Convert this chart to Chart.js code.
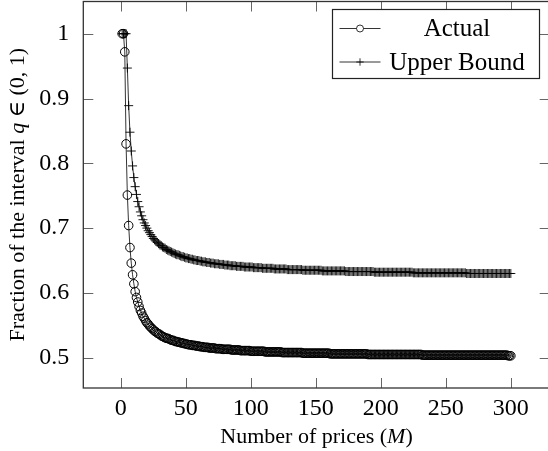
<!DOCTYPE html>
<html>
<head>
<meta charset="utf-8">
<script src="https://cdn.jsdelivr.net/npm/chart.js@4.4.1/dist/chart.umd.min.js"></script>
<style>
  html, body { margin: 0; padding: 0; background: #fff; overflow: hidden; }
  canvas { display: block; }
</style>
</head>
<body>
<canvas id="chart" width="552" height="451"></canvas>
<script>
const seriesNames = ['Actual', 'Upper Bound'];
const firstM = 1; // first value of M, one point per integer M
const xTicks = [0, 50, 100, 150, 200, 250, 300];
const yTicks = [0.5, 0.6, 0.7, 0.8, 0.9, 1];

// M = 1 .. 300
const actual = [
  1, 1, 0.972, 0.830, 0.751, 0.704, 0.670, 0.646, 0.628, 0.614,
  0.602, 0.593, 0.586, 0.579, 0.573, 0.569, 0.564, 0.561, 0.557, 0.554,
  0.552, 0.549, 0.547, 0.545, 0.543, 0.541, 0.540, 0.538, 0.537, 0.536,
  0.534, 0.533, 0.532, 0.531, 0.530, 0.530, 0.529, 0.528, 0.527, 0.527,
  0.526, 0.525, 0.525, 0.524, 0.524, 0.523, 0.523, 0.522, 0.522, 0.521,
  0.521, 0.520, 0.520, 0.520, 0.519, 0.519, 0.519, 0.518, 0.518, 0.518,
  0.517, 0.517, 0.517, 0.516, 0.516, 0.516, 0.516, 0.515, 0.515, 0.515,
  0.515, 0.515, 0.514, 0.514, 0.514, 0.514, 0.514, 0.513, 0.513, 0.513,
  0.513, 0.513, 0.513, 0.513, 0.512, 0.512, 0.512, 0.512, 0.512, 0.512,
  0.512, 0.511, 0.511, 0.511, 0.511, 0.511, 0.511, 0.511, 0.511, 0.510,
  0.510, 0.510, 0.510, 0.510, 0.510, 0.510, 0.510, 0.510, 0.510, 0.510,
  0.509, 0.509, 0.509, 0.509, 0.509, 0.509, 0.509, 0.509, 0.509, 0.509,
  0.509, 0.509, 0.509, 0.508, 0.508, 0.508, 0.508, 0.508, 0.508, 0.508,
  0.508, 0.508, 0.508, 0.508, 0.508, 0.508, 0.508, 0.508, 0.508, 0.507,
  0.507, 0.507, 0.507, 0.507, 0.507, 0.507, 0.507, 0.507, 0.507, 0.507,
  0.507, 0.507, 0.507, 0.507, 0.507, 0.507, 0.507, 0.507, 0.507, 0.507,
  0.506, 0.506, 0.506, 0.506, 0.506, 0.506, 0.506, 0.506, 0.506, 0.506,
  0.506, 0.506, 0.506, 0.506, 0.506, 0.506, 0.506, 0.506, 0.506, 0.506,
  0.506, 0.506, 0.506, 0.506, 0.506, 0.506, 0.506, 0.506, 0.506, 0.505,
  0.505, 0.505, 0.505, 0.505, 0.505, 0.505, 0.505, 0.505, 0.505, 0.505,
  0.505, 0.505, 0.505, 0.505, 0.505, 0.505, 0.505, 0.505, 0.505, 0.505,
  0.505, 0.505, 0.505, 0.505, 0.505, 0.505, 0.505, 0.505, 0.505, 0.505,
  0.505, 0.505, 0.505, 0.505, 0.505, 0.505, 0.505, 0.505, 0.505, 0.505,
  0.505, 0.504, 0.504, 0.504, 0.504, 0.504, 0.504, 0.504, 0.504, 0.504,
  0.504, 0.504, 0.504, 0.504, 0.504, 0.504, 0.504, 0.504, 0.504, 0.504,
  0.504, 0.504, 0.504, 0.504, 0.504, 0.504, 0.504, 0.504, 0.504, 0.504,
  0.504, 0.504, 0.504, 0.504, 0.504, 0.504, 0.504, 0.504, 0.504, 0.504,
  0.504, 0.504, 0.504, 0.504, 0.504, 0.504, 0.504, 0.504, 0.504, 0.504,
  0.504, 0.504, 0.504, 0.504, 0.504, 0.504, 0.504, 0.504, 0.504, 0.504,
  0.504, 0.504, 0.504, 0.504, 0.504, 0.504, 0.504, 0.503, 0.503, 0.503
];

const upperBound = [
  1, 1, 1, 1, 0.947, 0.889, 0.848, 0.819, 0.796, 0.778,
  0.764, 0.752, 0.741, 0.733, 0.725, 0.719, 0.713, 0.708, 0.704, 0.700,
  0.696, 0.693, 0.690, 0.687, 0.684, 0.682, 0.680, 0.678, 0.676, 0.674,
  0.673, 0.671, 0.670, 0.669, 0.667, 0.666, 0.665, 0.664, 0.663, 0.662,
  0.661, 0.660, 0.659, 0.659, 0.658, 0.657, 0.656, 0.656, 0.655, 0.654,
  0.654, 0.653, 0.653, 0.652, 0.652, 0.651, 0.651, 0.650, 0.650, 0.650,
  0.649, 0.649, 0.648, 0.648, 0.648, 0.647, 0.647, 0.647, 0.646, 0.646,
  0.646, 0.645, 0.645, 0.645, 0.645, 0.644, 0.644, 0.644, 0.644, 0.643,
  0.643, 0.643, 0.643, 0.642, 0.642, 0.642, 0.642, 0.642, 0.641, 0.641,
  0.641, 0.641, 0.641, 0.641, 0.640, 0.640, 0.640, 0.640, 0.640, 0.640,
  0.640, 0.639, 0.639, 0.639, 0.639, 0.639, 0.639, 0.639, 0.638, 0.638,
  0.638, 0.638, 0.638, 0.638, 0.638, 0.638, 0.638, 0.637, 0.637, 0.637,
  0.637, 0.637, 0.637, 0.637, 0.637, 0.637, 0.637, 0.636, 0.636, 0.636,
  0.636, 0.636, 0.636, 0.636, 0.636, 0.636, 0.636, 0.636, 0.636, 0.635,
  0.635, 0.635, 0.635, 0.635, 0.635, 0.635, 0.635, 0.635, 0.635, 0.635,
  0.635, 0.635, 0.635, 0.635, 0.634, 0.634, 0.634, 0.634, 0.634, 0.634,
  0.634, 0.634, 0.634, 0.634, 0.634, 0.634, 0.634, 0.634, 0.634, 0.634,
  0.634, 0.634, 0.633, 0.633, 0.633, 0.633, 0.633, 0.633, 0.633, 0.633,
  0.633, 0.633, 0.633, 0.633, 0.633, 0.633, 0.633, 0.633, 0.633, 0.633,
  0.633, 0.633, 0.633, 0.633, 0.632, 0.632, 0.632, 0.632, 0.632, 0.632,
  0.632, 0.632, 0.632, 0.632, 0.632, 0.632, 0.632, 0.632, 0.632, 0.632,
  0.632, 0.632, 0.632, 0.632, 0.632, 0.632, 0.632, 0.632, 0.632, 0.632,
  0.632, 0.632, 0.632, 0.632, 0.631, 0.631, 0.631, 0.631, 0.631, 0.631,
  0.631, 0.631, 0.631, 0.631, 0.631, 0.631, 0.631, 0.631, 0.631, 0.631,
  0.631, 0.631, 0.631, 0.631, 0.631, 0.631, 0.631, 0.631, 0.631, 0.631,
  0.631, 0.631, 0.631, 0.631, 0.631, 0.631, 0.631, 0.631, 0.631, 0.631,
  0.631, 0.631, 0.631, 0.631, 0.631, 0.630, 0.630, 0.630, 0.630, 0.630,
  0.630, 0.630, 0.630, 0.630, 0.630, 0.630, 0.630, 0.630, 0.630, 0.630,
  0.630, 0.630, 0.630, 0.630, 0.630, 0.630, 0.630, 0.630, 0.630, 0.630,
  0.630, 0.630, 0.630, 0.630, 0.630, 0.630, 0.630, 0.630, 0.630, 0.630
];

const serif = '"Liberation Serif", "DejaVu Serif", serif';
const toPoints = vals => vals.map((y, i) => ({ x: firstM + i, y }));

// pgfplots-like frame: box, inward ticks on all sides, axis titles, legend
const pgfFrame = {
  id: 'pgfFrame',
  afterDraw(chart) {
    const { ctx, chartArea: a, scales } = chart;
    const tick = 10;
    ctx.save();

    ctx.strokeStyle = '#666';
    ctx.lineWidth = 1;
    ctx.beginPath();
    xTicks.forEach(v => {
      const px = Math.round(scales.x.getPixelForValue(v)) + 0.5;
      ctx.moveTo(px, a.bottom); ctx.lineTo(px, a.bottom - tick);
      ctx.moveTo(px, a.top); ctx.lineTo(px, a.top + tick);
    });
    yTicks.forEach(v => {
      const py = Math.round(scales.y.getPixelForValue(v)) + 0.5;
      ctx.moveTo(a.left, py); ctx.lineTo(a.left + tick, py);
      ctx.moveTo(a.right, py); ctx.lineTo(a.right - tick, py);
    });
    ctx.stroke();

    ctx.strokeStyle = '#333';
    ctx.lineWidth = 1.3;
    ctx.strokeRect(a.left, a.top, a.right - a.left, a.bottom - a.top);

    // axis titles with italic math symbols
    const drawParts = (parts, cx, cy) => {
      let total = 0;
      parts.forEach(p => { ctx.font = p.font; p.w = ctx.measureText(p.text).width; total += p.w; });
      let x = cx - total / 2;
      ctx.fillStyle = '#000';
      ctx.textBaseline = 'middle';
      ctx.textAlign = 'left';
      parts.forEach(p => { ctx.font = p.font; ctx.fillText(p.text, x, cy); x += p.w; });
    };
    const up = '22px ' + serif;
    const it = 'italic 22px ' + serif;
    drawParts([
      { text: 'Number of prices (', font: up },
      { text: 'M', font: it },
      { text: ')', font: up }
    ], (a.left + a.right) / 2, 437);

    ctx.save();
    ctx.translate(18, (a.top + a.bottom) / 2);
    ctx.rotate(-Math.PI / 2);
    drawParts([
      { text: 'Fraction of the interval ', font: up },
      { text: 'q', font: it },
      { text: ' \u2208 (0, 1)', font: up }
    ], 0, 0);
    ctx.restore();

    // legend
    const lg = { left: 332.5, top: 9.5, width: 207, height: 69 };
    ctx.fillStyle = '#fff';
    ctx.fillRect(lg.left, lg.top, lg.width, lg.height);
    ctx.strokeStyle = '#222';
    ctx.lineWidth = 1.2;
    ctx.strokeRect(lg.left, lg.top, lg.width, lg.height);
    chart.data.datasets.forEach((ds, i) => {
      const y = lg.top + 19 + i * 33.5;
      ctx.strokeStyle = '#000';
      ctx.lineWidth = 0.8;
      ctx.beginPath();
      ctx.moveTo(lg.left + 7, y); ctx.lineTo(lg.left + 48, y);
      ctx.stroke();
      Chart.helpers.drawPoint(ctx, {
        pointStyle: ds.pointStyle, radius: ds.pointRadius - 0.8, borderWidth: 0.8
      }, lg.left + 27.5, y);
      ctx.fillStyle = '#000';
      ctx.font = '25px ' + serif;
      ctx.textAlign = 'center';
      ctx.textBaseline = 'middle';
      ctx.fillText(ds.label, lg.left + 124.5, y + 1);
    });
    ctx.restore();
  }
};

new Chart(document.getElementById('chart'), {
  type: 'line',
  data: {
    datasets: [
      {
        label: seriesNames[0], data: toPoints(actual),
        borderColor: '#000', borderWidth: 0.8,
        pointStyle: 'circle', pointRadius: 4.3, pointBorderWidth: 1,
        pointBorderColor: '#000', pointBackgroundColor: 'rgba(0,0,0,0)'
      },
      {
        label: seriesNames[1], data: toPoints(upperBound),
        borderColor: '#000', borderWidth: 0.8,
        pointStyle: 'cross', pointRadius: 4.5, pointBorderWidth: 0.9,
        pointBorderColor: '#000', pointBackgroundColor: 'rgba(0,0,0,0)'
      }
    ]
  },
  options: {
    responsive: false,
    animation: false,
    devicePixelRatio: 1,
    layout: { autoPadding: false, padding: { top: 1.5, right: 2.3, left: 0, bottom: 0 } },
    plugins: { legend: { display: false }, tooltip: { enabled: false } },
    scales: {
      x: {
        type: 'linear', min: -28.9, max: 329.9,
        grid: { display: false }, border: { display: false },
        ticks: { color: '#000', font: { family: serif, size: 24 }, padding: -2 },
        afterBuildTicks: s => { s.ticks = xTicks.map(v => ({ value: v })); },
        afterFit: s => { s.height = 63; s.paddingLeft = 0; s.paddingRight = 0; }
      },
      y: {
        type: 'linear', min: 0.4533, max: 1.0497,
        grid: { display: false }, border: { display: false },
        ticks: { color: '#000', font: { family: serif, size: 24 }, padding: 6, callback: v => String(v) },
        afterBuildTicks: s => { s.ticks = yTicks.map(v => ({ value: v })); },
        afterFit: s => { s.width = 83.3; s.paddingTop = 0; s.paddingBottom = 0; }
      }
    }
  },
  plugins: [pgfFrame]
});
</script>
</body>
</html>
